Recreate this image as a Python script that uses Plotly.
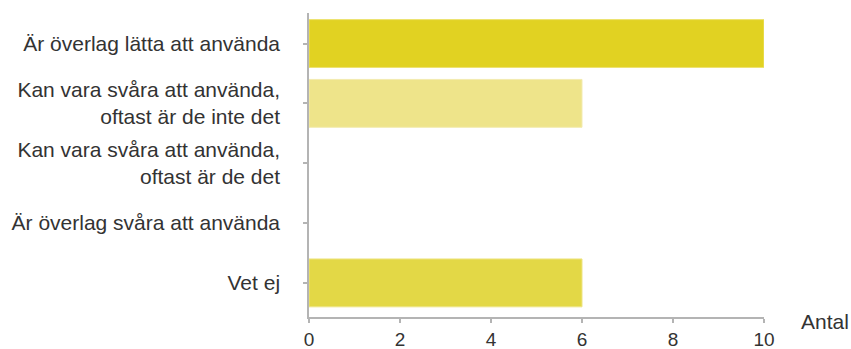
import plotly.graph_objects as go

# Survey answers and the number of respondents for each
categories = [
    "Är överlag lätta att använda",
    "Kan vara svåra att använda,<br>oftast är de inte det",
    "Kan vara svåra att använda,<br>oftast är de det",
    "Är överlag svåra att använda",
    "Vet ej",
]
counts = [10, 6, 0, 0, 6]
bar_colors = ["#E1D222", "#EEE48A", "#E3D846", "#E3D846", "#E3D846"]
edge_colors = ["#EDE270", "#F3EBB0", "#EEE483", "#EEE483", "#EEE483"]
x_ticks = [0, 2, 4, 6, 8, 10]

font_family = "Liberation Sans, Arial, sans-serif"
text_color = "#333333"
axis_color = "#b4b4b4"
font_size = 21

fig = go.Figure(
    go.Bar(
        x=counts,
        y=categories,
        orientation="h",
        width=0.8,
        marker=dict(
            color=bar_colors,
            line=dict(color=edge_colors, width=[1 if c > 0 else 0 for c in counts]),
        ),
        hoverinfo="x+y",
    )
)

fig.update_layout(
    width=851,
    height=349,
    margin=dict(l=309, r=87, t=13, b=32),
    paper_bgcolor="white",
    plot_bgcolor="white",
    showlegend=False,
    font=dict(family=font_family, size=font_size, color=text_color),
    xaxis=dict(
        range=[0, 10],
        tickvals=x_ticks,
        ticktext=[str(v) for v in x_ticks],
        showgrid=False,
        zeroline=False,
        showline=True,
        linecolor=axis_color,
        linewidth=1.5,
        ticks="outside",
        ticklen=4,
        tickwidth=1.5,
        tickcolor=axis_color,
        tickfont=dict(size=19, color=text_color),
        automargin=False,
        fixedrange=True,
    ),
    yaxis=dict(
        range=[4.57, -0.51],
        showgrid=False,
        zeroline=False,
        showline=True,
        linecolor=axis_color,
        linewidth=1.5,
        ticks="outside",
        ticklen=4,
        tickwidth=1.5,
        tickcolor=axis_color,
        ticklabelstandoff=19,
        tickfont=dict(size=font_size, color=text_color),
        automargin=False,
        fixedrange=True,
    ),
    annotations=[
        dict(
            text="Antal",
            xref="paper",
            yref="paper",
            x=1.077,
            y=-0.016,
            xanchor="left",
            yanchor="middle",
            showarrow=False,
            font=dict(size=font_size, color=text_color, family=font_family),
        )
    ],
)

fig.write_html("out.html")
